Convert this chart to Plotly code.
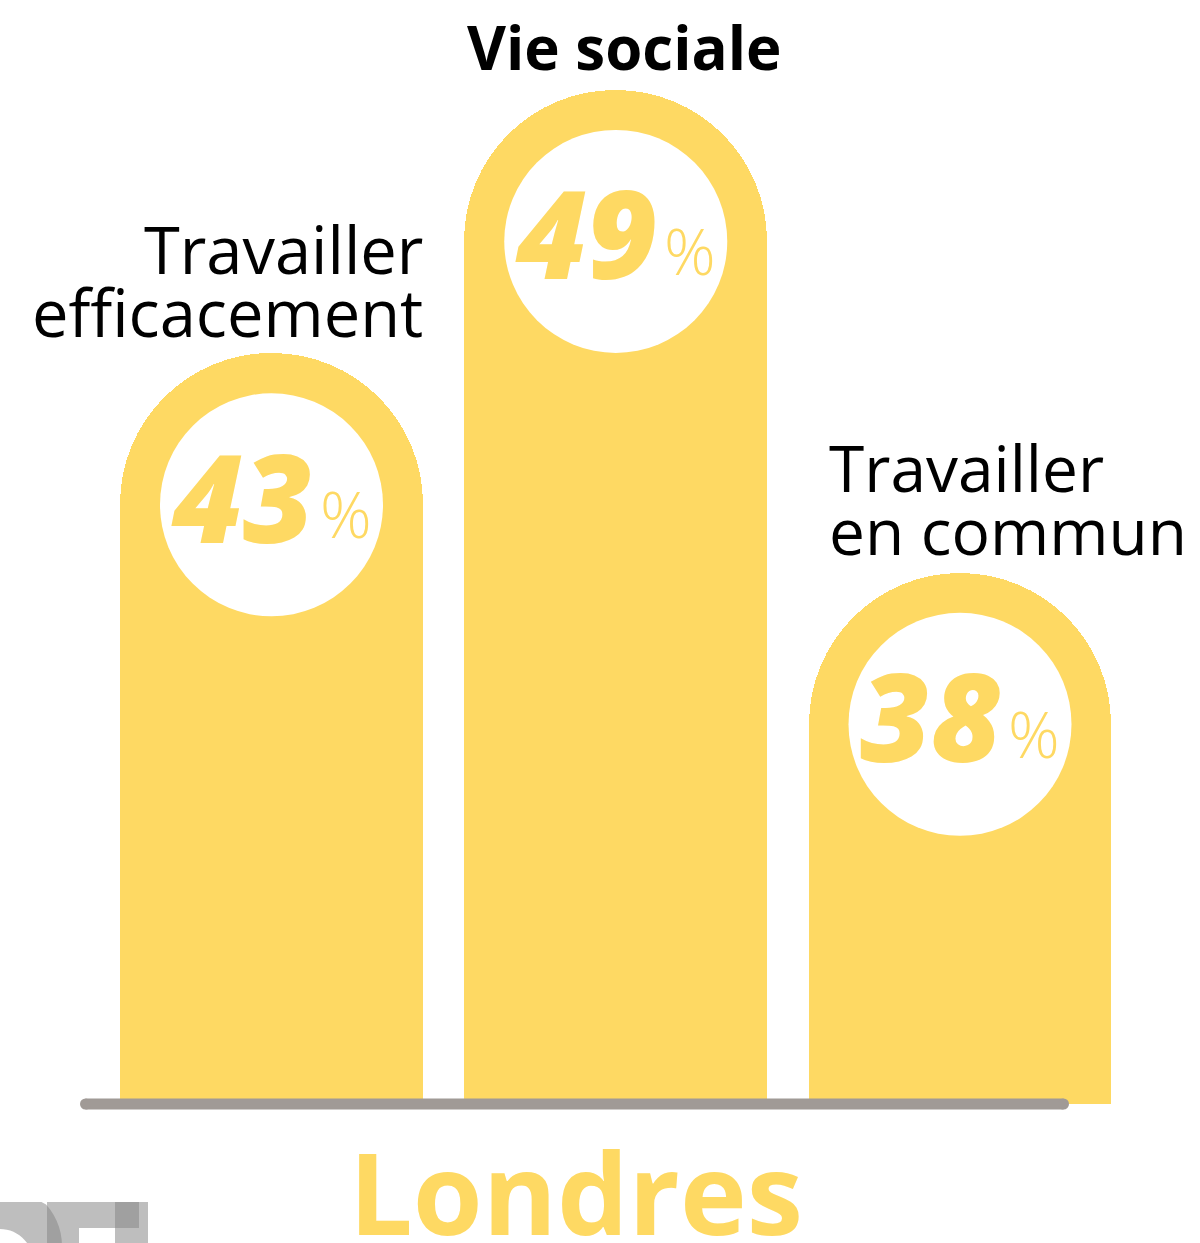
import plotly.graph_objects as go
import numpy as np

# ---- data ----
categories = ["Travailler efficacement", "Vie sociale", "Travailler en commun"]
label_lines = [["Travailler", "efficacement"], ["Vie sociale"], ["Travailler", "en commun"]]
values = [43, 49, 38]
city = "Londres"

# ---- style / layout constants ----
W, H = 1200, 1243
YELLOW = "#FED963"
GREY = "#A09A96"
BASE = 25.9            # value at the baseline (bars start here)
PX_PER_UNIT = 43.9     # vertical pixels per percentage point
BASE_PX = 1104         # pixel row of the baseline
PX_PER_X = 344.25      # horizontal pixels per category step
X0_PX = 271.5          # pixel column of first category
BAR_W = 0.88
CIRCLE_D = 223

xs = list(range(len(categories)))
# y axis shows (value - BASE) so that bars grow from 0 and only their tops are rounded
heights = [v - BASE for v in values]
x_range = [(0 - X0_PX) / PX_PER_X, (W - X0_PX) / PX_PER_X]
y_range = [-(H - BASE_PX) / PX_PER_UNIT, BASE_PX / PX_PER_UNIT]
half_bar_units = (BAR_W * PX_PER_X / 2) / PX_PER_UNIT
circle_y = [h - half_bar_units for h in heights]

fig = go.Figure()
fig.add_trace(go.Bar(
    x=xs, y=heights, width=BAR_W,
    marker=dict(color=YELLOW, cornerradius="50%", line=dict(width=0)),
    customdata=values, hoverinfo="skip", showlegend=False,
))
fig.add_trace(go.Scatter(
    x=xs, y=circle_y, mode="markers",
    marker=dict(size=CIRCLE_D, color="white", line=dict(width=0)),
    hoverinfo="skip", showlegend=False,
))
# baseline (round caps made by end markers)
base_x = [(85.5 - X0_PX) / PX_PER_X, (1063.5 - X0_PX) / PX_PER_X]
fig.add_trace(go.Scatter(
    x=base_x, y=[0, 0], mode="lines+markers",
    line=dict(color=GREY, width=11), marker=dict(color=GREY, size=11),
    hoverinfo="skip", showlegend=False,
))

ann = []
for i, (v, cy) in enumerate(zip(values, circle_y)):
    ann.append(dict(x=i, y=cy, xref="x", yref="y", text=str(v), showarrow=False,
                    xanchor="center", yanchor="middle", xshift=-29, yshift=9,
                    font=dict(family="Open Sans", size=122, color=YELLOW,
                              weight=800, style="italic")))
    ann.append(dict(x=i, y=cy, xref="x", yref="y", text="%", showarrow=False,
                    xanchor="center", yanchor="middle", xshift=74, yshift=-9,
                    font=dict(family="Open Sans", size=64, color=YELLOW, weight=300)))

# category labels
LINE_GAP = 63
for i, (lines, h) in enumerate(zip(label_lines, heights)):
    n = len(lines)
    for j, line in enumerate(lines):
        up = (n - 1 - j) * LINE_GAP
        if i == 0:
            kw = dict(x=i + BAR_W / 2, xanchor="right", xshift=2)
            font = dict(family="Open Sans", size=65, color="black")
            ys = -5
        elif i == 2:
            kw = dict(x=i - BAR_W / 2, xanchor="left", xshift=18)
            font = dict(family="Open Sans", size=64, color="black")
            ys = -3
        else:
            kw = dict(x=i, xanchor="center", xshift=8)
            font = dict(family="Open Sans", size=60, color="black", weight=700)
            ys = 0
        ann.append(dict(y=h, xref="x", yref="y", text=line, showarrow=False,
                        yanchor="bottom", yshift=ys + up, font=font, **kw))

ann.append(dict(x=576 / W, y=0, xref="paper", yref="paper", text=city, showarrow=False,
                xanchor="center", yanchor="bottom", yshift=-27,
                font=dict(family="Open Sans", size=113, color=YELLOW, weight=700)))

# ---- decorative logo fragment (bottom-left), in pixel space -> paper ----
def px(xp, yp):
    return xp / W, 1 - yp / H

def poly_path(points):
    s = ""
    for k, (a, b) in enumerate(points):
        X, Y = px(a, b)
        s += ("M" if k == 0 else "L") + f"{X:.5f},{Y:.5f}"
    return s + "Z"

def circ_pts(cx, cy, r, ymin, n=60):
    pts = []
    for t in np.linspace(0, 2 * np.pi, n, endpoint=False):
        a, b = cx + r * np.cos(t), cy + r * np.sin(t)
        pts.append((a, max(b, ymin)))
    return pts

LOGO_C = "rgb(134,134,134)"
LOGO_OP = 0.54
shapes = []
ring = poly_path(circ_pts(0, 1246, 62, 1202)) + poly_path(circ_pts(0, 1262, 33, 1229))
shapes.append(dict(type="path", path=ring, xref="paper", yref="paper", fillcolor=LOGO_C,
                   opacity=LOGO_OP, line=dict(width=0), fillrule="evenodd", layer="above"))
for (a, b, c, d) in [(47, 1202, 139, 1228), (115, 1202, 148, 1243), (47, 1228, 79, 1243)]:
    x0, y0 = px(a, b); x1, y1 = px(c, d)
    shapes.append(dict(type="rect", x0=x0, y0=y1, x1=x1, y1=y0, xref="paper", yref="paper",
                       fillcolor=LOGO_C, opacity=LOGO_OP, line=dict(width=0), layer="above"))

fig.update_layout(
    width=W, height=H, margin=dict(l=0, r=0, t=0, b=0),
    paper_bgcolor="white", plot_bgcolor="white",
    xaxis=dict(range=x_range, visible=False, fixedrange=True),
    yaxis=dict(range=y_range, visible=False, fixedrange=True),
    annotations=ann, shapes=shapes, bargap=0,
)
fig.write_html("out.html", config={"displayModeBar": False},
               post_script="document.body.style.margin='0';")
